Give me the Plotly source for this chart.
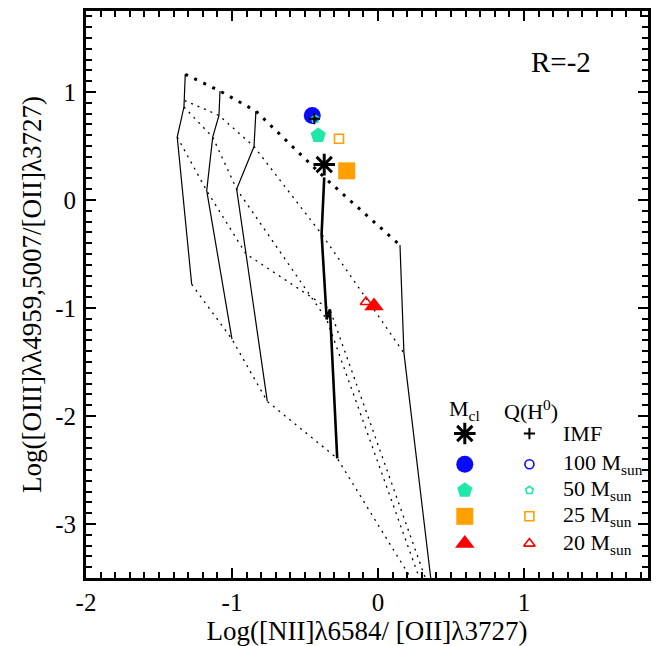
import plotly.graph_objects as go

# ---------------- data ----------------
# solid model tracks
track1_x = [-1.320, -1.324, -1.329, -1.375, -1.276]
track1_y = [1.164, 0.921, 0.861, 0.582, -0.781]
track2_x = [-1.082, -1.089, -1.132, -1.173, -1.000]
track2_y = [1.009, 0.783, 0.582, 0.086, -1.289]
track3_x = [-0.836, -0.849, -0.968, -0.904, -0.758]
track3_y = [0.823, 0.495, 0.102, -0.499, -1.865]
thick_x = [-0.368, -0.386, -0.351, -0.329, -0.279]
thick_y = [0.210, -0.316, -1.106, -1.013, -2.392]
track5_x = [0.151, 0.178, 0.363]
track5_y = [-0.418, -1.416, -3.517]

# dotted iso-lines across the tracks
rowA_x = [-1.320, -1.082, -0.836, -0.368, 0.151]
rowA_y = [1.164, 1.009, 0.823, 0.210, -0.418]
rowB_x = [-1.324, -1.089, -0.849, -0.386, 0.178]
rowB_y = [0.921, 0.783, 0.495, -0.316, -1.416]
rowC_x = [-1.329, -1.132, -0.968, -0.351, 0.288]
rowC_y = [0.861, 0.582, 0.102, -1.106, -3.517]
rowD_x = [-1.375, -1.173, -0.904, -0.329, 0.329]
rowD_y = [0.582, 0.086, -0.499, -1.013, -3.517]
rowE_x = [-1.276, -1.000, -0.758, -0.279, 0.233]
rowE_y = [-0.781, -1.289, -1.865, -2.392, -3.517]

# cluster (M_cl) points
mcl_labels = ["IMF", "100", "50", "25", "20"]
mcl_x = [-0.368, -0.450, -0.409, -0.214, -0.027]
mcl_y = [0.328, 0.783, 0.598, 0.270, -0.982]
# Q(H0) points
qh_x = [-0.436, -0.450, -0.430, -0.267, -0.082]
qh_y = [0.753, 0.783, 0.750, 0.567, -0.945]

legend_text = ["IMF", "100 M<sub>sun</sub>", "50 M<sub>sun</sub>",
               "25 M<sub>sun</sub>", "20 M<sub>sun</sub>"]
colors = ["black", "#0a0aff", "#1ee8a8", "#ffa000", "#ff0000"]
filled_symbols = ["asterisk", "circle", "pentagon", "square", "triangle-up"]
filled_sizes = [18, 17, 16, 17, 17]
open_symbols = ["cross-thin", "circle-open", "pentagon-open", "square-open", "triangle-up-open"]
open_sizes = [8, 9, 8, 9, 10]

xticks = [-2, -1, 0, 1]
xtick_text = ["-2", "-1", "0", "1"]
yticks = [1, 0, -1, -2, -3]
ytick_text = ["1", "0", "-1", "-2", "-3"]

FONT = "Liberation Serif"

fig = go.Figure()

thin = dict(color="black", width=1.2)
for xs, ys in [(track1_x, track1_y), (track2_x, track2_y), (track3_x, track3_y), (track5_x, track5_y)]:
    fig.add_trace(go.Scatter(x=xs, y=ys, mode="lines", line=thin, showlegend=False, hoverinfo="skip"))
fig.add_trace(go.Scatter(x=thick_x, y=thick_y, mode="lines", line=dict(color="black", width=2.6),
                         showlegend=False, hoverinfo="skip"))
fig.add_trace(go.Scatter(x=rowA_x, y=rowA_y, mode="lines",
                         line=dict(color="black", width=3, dash="3px,7px"), showlegend=False, hoverinfo="skip"))
for xs, ys in [(rowB_x, rowB_y), (rowC_x, rowC_y), (rowD_x, rowD_y), (rowE_x, rowE_y)]:
    fig.add_trace(go.Scatter(x=xs, y=ys, mode="lines",
                             line=dict(color="black", width=1.3, dash="2px,5px"), showlegend=False, hoverinfo="skip"))


def marker(sym, size, col):
    if sym in ("asterisk", "cross-thin"):
        return dict(symbol=sym, size=size, color=col, line=dict(color=col, width=3 if sym == "asterisk" else 2))
    if sym.endswith("-open"):
        return dict(symbol=sym, size=size, color=col, line=dict(color=col, width=1.6))
    return dict(symbol=sym, size=size, color=col, line=dict(width=0))

# data markers: filled (M_cl) then open (Q(H0))
for i in [1, 2, 3, 4, 0]:
    fig.add_trace(go.Scatter(x=[mcl_x[i]], y=[mcl_y[i]], mode="markers",
                             marker=marker(filled_symbols[i], filled_sizes[i], colors[i]),
                             showlegend=False, hoverinfo="skip"))
for i in [1, 2, 3, 4, 0]:
    fig.add_trace(go.Scatter(x=[qh_x[i]], y=[qh_y[i]], mode="markers",
                             marker=marker(open_symbols[i], open_sizes[i], colors[i]),
                             showlegend=False, hoverinfo="skip"))

# hand-made legend on an overlay axis in plot-fraction units
leg_col1, leg_col2, leg_text = 0.674, 0.789, 0.845
leg_rows = [0.2548, 0.2006, 0.1548, 0.1088, 0.0607]
leg_head = 0.296
for i in range(5):
    fig.add_trace(go.Scatter(x=[leg_col1], y=[leg_rows[i]], xaxis="x2", yaxis="y2", mode="markers",
                             marker=marker(filled_symbols[i], filled_sizes[i], colors[i]),
                             showlegend=False, hoverinfo="skip"))
    fig.add_trace(go.Scatter(x=[leg_col2], y=[leg_rows[i]], xaxis="x2", yaxis="y2", mode="markers",
                             marker=marker(open_symbols[i], open_sizes[i], colors[i]),
                             showlegend=False, hoverinfo="skip"))

annotations = []
for i in range(5):
    annotations.append(dict(x=leg_text, y=leg_rows[i], xref="x2", yref="y2", text=legend_text[i],
                            showarrow=False, xanchor="left", yanchor="middle",
                            font=dict(family=FONT, size=22, color="black")))
annotations.append(dict(x=leg_col1, y=leg_head, xref="x2", yref="y2", text="M<sub>cl</sub>",
                        showarrow=False, xanchor="center", yanchor="middle",
                        font=dict(family=FONT, size=22, color="black")))
annotations.append(dict(x=0.792, y=leg_head, xref="x2", yref="y2", text="Q(H<sup>0</sup>)",
                        showarrow=False, xanchor="center", yanchor="middle",
                        font=dict(family=FONT, size=22, color="black")))
annotations.append(dict(x=0.845, y=0.9105, xref="x2", yref="y2", text="R=-2",
                        showarrow=False, xanchor="center", yanchor="middle",
                        font=dict(family=FONT, size=29, color="black")))

axis_common = dict(showgrid=False, zeroline=False, showline=True, linecolor="black", linewidth=3,
                   mirror="allticks", ticks="inside", ticklen=10, tickwidth=2, tickcolor="black",
                   automargin=False,
                   tickfont=dict(family=FONT, size=25, color="black"),
                   minor=dict(ticks="inside", ticklen=6, tickwidth=2, tickcolor="black", dtick=0.1))

fig.update_layout(
    width=667, height=646,
    margin=dict(l=86, r=19, t=11, b=68),
    plot_bgcolor="white", paper_bgcolor="white",
    annotations=annotations,
    xaxis=dict(range=[-2, 1.85], tickmode="array", tickvals=xticks, ticktext=xtick_text,
               ticklabelstandoff=0,
               title=dict(text="Log([NII]\u03bb6584/ [OII]\u03bb3727)", standoff=2,
                          font=dict(family=FONT, size=27, color="black")),
               **axis_common),
    yaxis=dict(range=[-3.5, 1.75], tickmode="array", tickvals=yticks, ticktext=ytick_text,
               ticklabelstandoff=2,
               title=dict(text="Log([OIII]\u03bb\u03bb4959,5007/[OII]\u03bb3727)", standoff=6,
                          font=dict(family=FONT, size=27, color="black")),
               **axis_common),
    xaxis2=dict(overlaying="x", range=[0, 1], visible=False),
    yaxis2=dict(overlaying="y", range=[0, 1], visible=False),
)

fig.write_html("out.html")
